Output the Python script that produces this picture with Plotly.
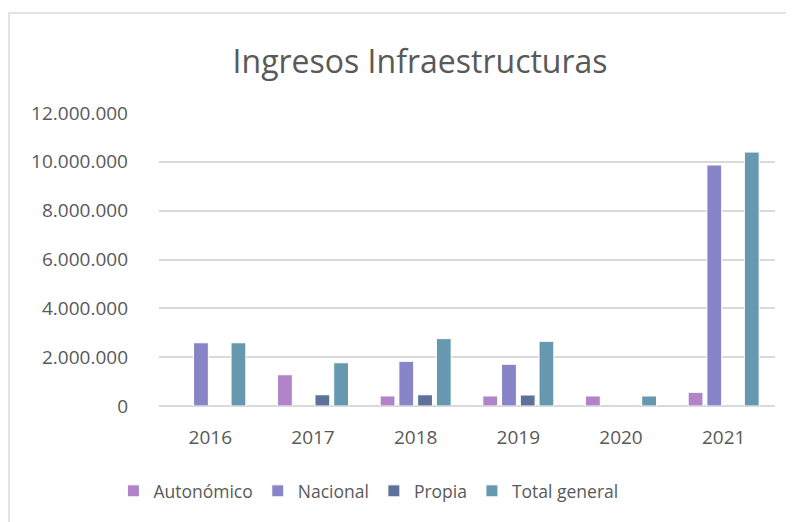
import plotly.graph_objects as go

years = ["2016", "2017", "2018", "2019", "2020", "2021"]
autonomico = [None, 1280000, 410000, 410000, 410000, 560000]
nacional = [2590000, None, 1830000, 1710000, None, 9870000]
propia = [None, 460000, 460000, 450000, None, None]
total_general = [2590000, 1770000, 2760000, 2650000, 410000, 10400000]

series = [
    ("Autonómico", autonomico, "#B084C7"),
    ("Nacional", nacional, "#8884C8"),
    ("Propia", propia, "#5E7299"),
    ("Total general", total_general, "#6699B0"),
]

txt = "#595959"
grid = "#D9D9D9"

# the page body adds an 8px margin, so pixel targets are shifted by 8
fig = go.Figure()
for name, vals, col in series:
    fig.add_trace(go.Bar(
        x=years, y=vals, name=name,
        marker=dict(color=col, line=dict(color="white", width=1)),
    ))

fig.update_layout(
    width=794, height=522,
    margin=dict(l=151, r=27, t=105, b=124),
    paper_bgcolor="white", plot_bgcolor="white",
    font=dict(family="Open Sans", color=txt),
    separators=",.",
    barmode="group", bargap=0.27, bargroupgap=0.21,
    title=dict(text="Ingresos Infraestructuras", x=0.519, xanchor="center",
               y=0.897, yanchor="middle", font=dict(size=32, color=txt)),
    showlegend=True,
    legend=dict(orientation="h", x=-0.074, xanchor="left", y=-0.29, yanchor="middle",
                font=dict(size=17.5, color=txt), itemwidth=30, traceorder="normal"),
    shapes=[dict(type="rect", xref="paper", yref="paper",
                 x0=(1 - 151) / 616, x1=1.2, y0=-0.6, y1=(398 - 5) / 293,
                 line=dict(color=grid, width=1.5), layer="below")],
)
fig.update_xaxes(showgrid=False, showline=False, ticks="", ticklabelstandoff=18,
                 tickfont=dict(size=19, color=txt))
fig.update_yaxes(range=[0, 12000000], dtick=2000000, tickformat=",d",
                 showgrid=True, gridcolor=grid, gridwidth=1.5,
                 zeroline=True, zerolinecolor=grid, zerolinewidth=1.5,
                 showline=False, ticks="", ticklabelstandoff=30,
                 tickfont=dict(size=19, color=txt))

fig.write_html("out.html")
